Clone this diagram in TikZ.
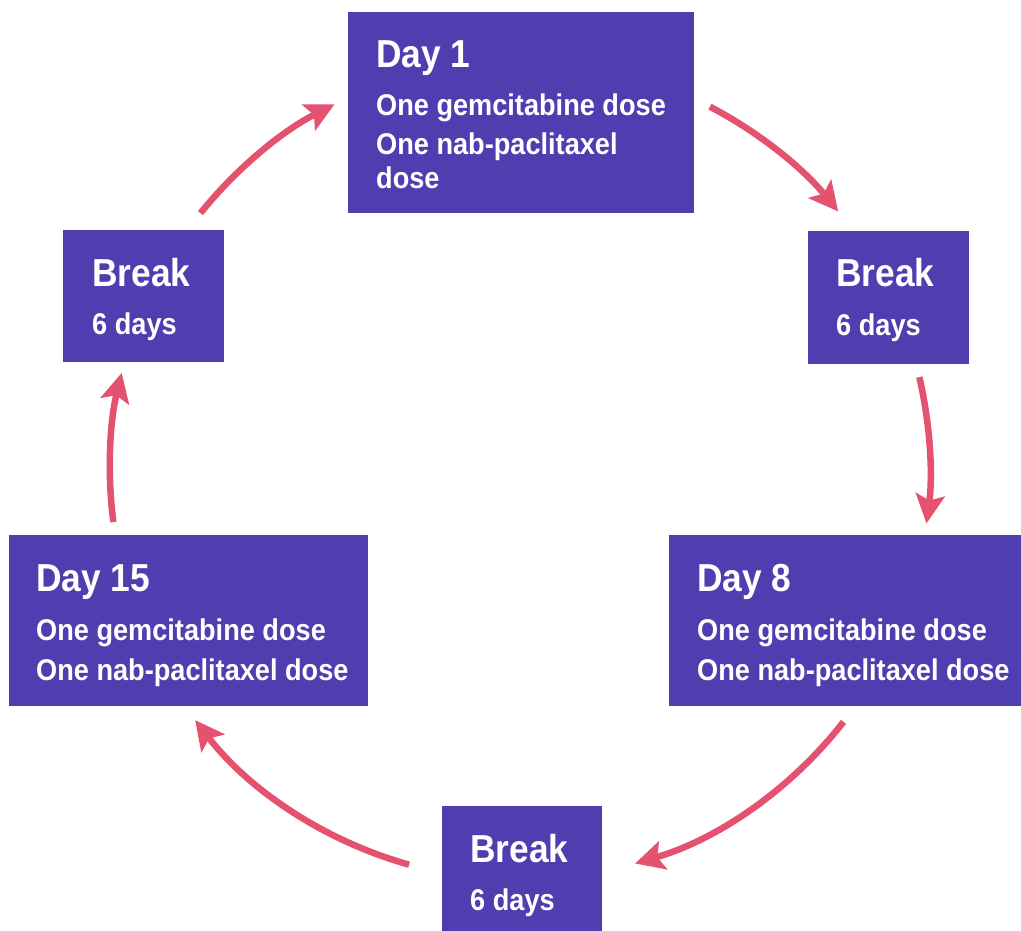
\documentclass[tikz,border=0pt]{standalone}
\usepackage{fontspec}
\setmainfont{Liberation Sans}[FakeStretch=0.905]
\usetikzlibrary{arrows.meta,calc}
\definecolor{boxpurple}{RGB}{80,62,176}
\definecolor{arrowpink}{RGB}{229,82,112}
\begin{document}
\begin{tikzpicture}[x=1pt,y=1pt,
  box/.style={fill=boxpurple, draw=none, inner sep=0pt, anchor=north west},
  ttl/.style={text=white, font=\bfseries\fontsize{39}{39}\selectfont, anchor=base west, inner sep=0pt},
  txt/.style={text=white, font=\bfseries\fontsize{30}{30}\selectfont, anchor=base west, inner sep=0pt},
  flow/.style={draw=arrowpink, line width=6.5pt, -{Stealth[length=29pt,width=29pt,inset=6pt]}}]
\useasboundingbox (0,0) rectangle (1021,-931);
% boxes
\node[box, minimum width=346pt, minimum height=201pt] (d1) at (348,-12) {};
\node[box, minimum width=161pt, minimum height=133pt] (br) at (808,-231) {};
\node[box, minimum width=352pt, minimum height=171pt] (d8) at (669,-535) {};
\node[box, minimum width=160pt, minimum height=125pt] (bb) at (442,-806) {};
\node[box, minimum width=359pt, minimum height=171pt] (d15) at (9,-535) {};
\node[box, minimum width=161pt, minimum height=132pt] (bl) at (63,-230) {};
% texts
\node[ttl] (d1t) at ($(d1.north west)+(28,-56)$) {Day 1};
\node[txt] (d1a) at ($(d1.north west)+(28,-104)$) {One gemcitabine dose};
\node[txt] (d1b) at ($(d1.north west)+(28,-143)$) {One nab-paclitaxel};
\node[txt] (d1c) at ($(d1.north west)+(28,-177)$) {dose};
\node[ttl] (brt) at ($(br.north west)+(28,-56)$) {Break};
\node[txt] (bra) at ($(br.north west)+(28,-104)$) {6 days};
\node[ttl] (d8t) at ($(d8.north west)+(28,-56)$) {Day 8};
\node[txt] (d8a) at ($(d8.north west)+(28,-105)$) {One gemcitabine dose};
\node[txt] (d8b) at ($(d8.north west)+(28,-145)$) {One nab-paclitaxel dose};
\node[ttl] (bbt) at ($(bb.north west)+(28,-56)$) {Break};
\node[txt] (bba) at ($(bb.north west)+(28,-104)$) {6 days};
\node[ttl] (d15t) at ($(d15.north west)+(27,-56)$) {Day 15};
\node[txt] (d15a) at ($(d15.north west)+(27,-105)$) {One gemcitabine dose};
\node[txt] (d15b) at ($(d15.north west)+(27,-145)$) {One nab-paclitaxel dose};
\node[ttl] (blt) at ($(bl.north west)+(29,-56)$) {Break};
\node[txt] (bla) at ($(bl.north west)+(29,-104)$) {6 days};
% arrows on a circle
\coordinate (c) at (520,-470);
\coordinate (s1) at ($(c)+(141.2:410)$);
\coordinate (s2) at ($(c)+(62.4:410)$);
\coordinate (s3) at ($(c)+(13.1:410)$);
\coordinate (s4) at ($(c)+(-37.9:410)$);
\coordinate (s5) at ($(c)+(254.3:410)$);
\coordinate (s6) at ($(c)+(187.3:410)$);
\draw[flow] (s1) arc[start angle=141.2, end angle=116.9, radius=410];
\draw[flow] (s2) arc[start angle=62.4, end angle=39.1, radius=410];
\draw[flow] (s3) arc[start angle=13.1, end angle=-7.5, radius=410];
\draw[flow] (s4) arc[start angle=-37.9, end angle=-73.7, radius=410];
\draw[flow] (s5) arc[start angle=254.3, end angle=217.6, radius=410];
\draw[flow] (s6) arc[start angle=187.3, end angle=166.3, radius=410];
\end{tikzpicture}
\end{document}
